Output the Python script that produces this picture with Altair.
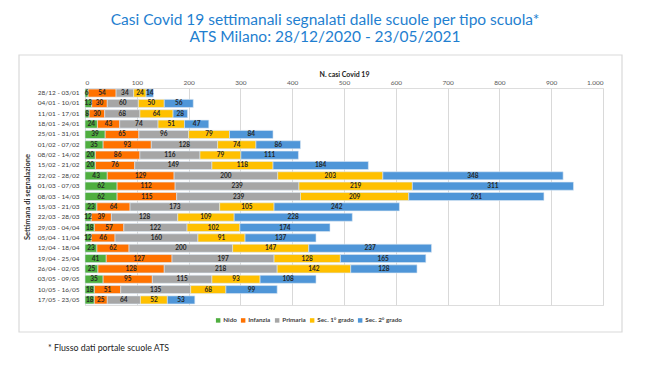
import altair as alt
import pandas as pd

weeks = ["28/12 - 03/01", "04/01 - 10/01", "11/01 - 17/01", "18/01 - 24/01", "25/01 - 31/01",
         "01/02 - 07/02", "08/02 - 14/02", "15/02 - 21/02", "22/02 - 28/02", "01/03 - 07/03",
         "08/03 - 14/03", "15/03 - 21/03", "22/03 - 28/03", "29/03 - 04/04", "05/04 - 11/04",
         "12/04 - 18/04", "19/04 - 25/04", "26/04 - 02/05", "03/05 - 09/05", "10/05 - 16/05",
         "17/05 - 23/05"]
categories = ["Nido", "Infanzia", "Primaria", "Sec. 1° grado", "Sec. 2° grado"]
nido = [6, 13, 8, 24, 39, 35, 20, 20, 43, 62, 62, 23, 12, 18, 12, 23, 41, 25, 35, 18, 18]
infanzia = [54, 30, 30, 43, 65, 93, 86, 76, 129, 112, 115, 64, 39, 57, 46, 62, 127, 128, 95, 51, 25]
primaria = [34, 60, 68, 74, 96, 128, 116, 149, 200, 239, 239, 173, 128, 122, 160, 200, 197, 218, 115, 135, 64]
sec1 = [24, 50, 64, 51, 79, 74, 79, 118, 203, 219, 209, 105, 109, 102, 91, 147, 128, 142, 93, 68, 52]
sec2 = [14, 56, 28, 47, 84, 86, 111, 184, 348, 311, 261, 242, 228, 174, 137, 237, 165, 128, 108, 99, 53]
colors = ["#4fae3f", "#ff7200", "#a6a6a6", "#ffc000", "#4f96d8"]
x_ticks = [0, 100, 200, 300, 400, 500, 600, 700, 800, 900, 1000]

series = [nido, infanzia, primaria, sec1, sec2]
rows = []
for ci, (cat, vals) in enumerate(zip(categories, series)):
    for w, v in zip(weeks, vals):
        rows.append({"week": w, "cat": cat, "ord": ci, "val": v})
df = pd.DataFrame(rows)

FONT = "Lato"

base = alt.Chart(df).transform_stack(
    stack="val", groupby=["week"], as_=["x0", "x1"], sort=[alt.SortField("ord", order="ascending")]
).transform_calculate(mid="(datum.x0 + datum.x1) / 2")

yenc = alt.Y("week:N", sort=weeks, title="Settimana di segnalazione",
             scale=alt.Scale(paddingInner=0.22, paddingOuter=0.1),
             axis=alt.Axis(labelFont=FONT, labelFontSize=6.5, labelColor="#404040", ticks=False,
                           domain=False, labelPadding=6, titleFont=FONT, titleFontSize=7.5,
                           titleColor="#333333", titleFontWeight="bold", titlePadding=6))

bars = base.mark_bar(stroke="#dbe7f3", strokeWidth=0.6).encode(
    x=alt.X("x0:Q", scale=alt.Scale(domain=[0, 1000]), title="N. casi Covid 19",
            axis=alt.Axis(orient="top", values=x_ticks,
                          labelExpr="replace(format(datum.value, ','), ',', '.')",
                          labelFont=FONT, labelFontSize=6.5, labelColor="#595959",
                          ticks=False, domain=False, labelPadding=3,
                          gridColor="#d9d9d9", gridWidth=1,
                          titleFont=FONT, titleFontSize=7, titleFontWeight="bold",
                          titleColor="#222222", titlePadding=2)),
    x2="x1:Q",
    y=yenc,
    color=alt.Color("cat:N", scale=alt.Scale(domain=categories, range=colors),
                    legend=alt.Legend(title=None, orient="none", direction="horizontal",
                                      legendX=130, legendY=229, symbolType="square",
                                      symbolSize=20, symbolStrokeWidth=0, labelFont=FONT,
                                      labelFontSize=6.3, labelFontWeight="bold",
                                      labelColor="#404040", columnPadding=3,
                                      symbolOffset=0, labelOffset=2)),
)

labels = base.mark_text(font=FONT, fontSize=6.5, fontWeight="bold", color="#262626").encode(
    x="mid:Q",
    y=alt.Y("week:N", sort=weeks),
    text="val:Q",
)

frame = alt.Chart(pd.DataFrame({"a": [0]})).mark_rect(
    fill="transparent", stroke="#d9d9d9", strokeWidth=1.2
).encode(x=alt.value(-66), x2=alt.value(537), y=alt.value(-33), y2=alt.value(244))

note = alt.Chart(pd.DataFrame({"t": ["* Flusso dati portale scuole ATS"]})).mark_text(
    font=FONT, fontSize=8.8, align="left", baseline="middle", color="#222222"
).encode(x=alt.value(-37), y=alt.value(260), text="t:N")

chart = alt.layer(frame, bars, labels, note).properties(
    width=518, height=217,
    autosize=alt.AutoSizeParams(type="none"),
    padding={"left": 77, "top": 80, "right": 39, "bottom": 55},
    title=alt.TitleParams(
        text=["Casi Covid 19 settimanali segnalati dalle scuole per tipo scuola*",
              "ATS Milano: 28/12/2020 - 23/05/2021"],
        font=FONT, fontSize=15.5, fontWeight="normal", color="#1f7fd0",
        anchor="middle", frame="group", dx=-19, lineHeight=17, offset=9),
).configure_view(stroke=None).configure(background="white")

chart.save("out.html", embed_options={"renderer": "svg", "actions": False})
